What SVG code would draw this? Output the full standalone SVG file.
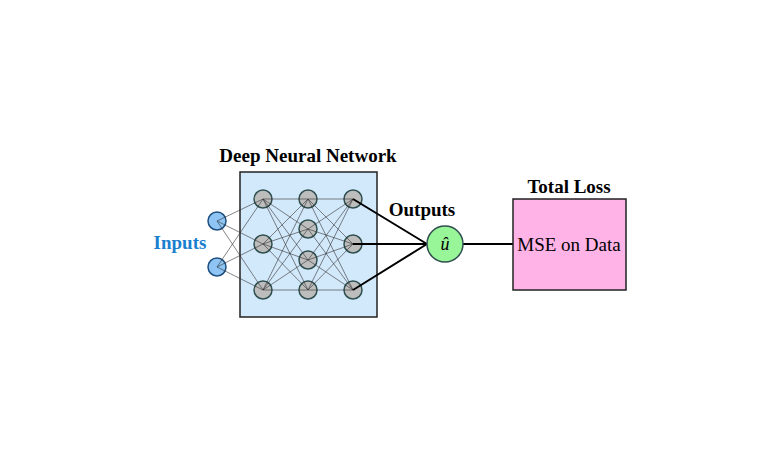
<svg xmlns="http://www.w3.org/2000/svg" width="776" height="459" viewBox="0 0 776 459">
<style>
.n{fill:#bdbdbd;stroke:#2f4f4f;stroke-width:1.5}
.i{fill:#8ec5f5;stroke:#1f4f7f;stroke-width:1.5}
.e{stroke:#333;stroke-width:0.6;fill:none}
.o{stroke:#000;stroke-width:2;fill:none}
.t{font-family:"Liberation Serif",serif;font-weight:bold;font-size:19px;text-anchor:middle}
</style>
<rect width="776" height="459" fill="#fff"/>
<g id="dnn"><rect x="240" y="172" width="137" height="145" fill="#d2e8fb" stroke="#222" stroke-width="1.5"/></g>
<text class="t" x="308" y="162">Deep Neural Network</text>
<text class="t" x="180" y="249" fill="#1a7fcf">Inputs</text>
<text class="t" x="422" y="216">Outputs</text>
<text class="t" x="569" y="193">Total Loss</text>
<g id="inputs"><circle class="i" cx="217" cy="221" r="9"/><circle class="i" cx="217" cy="267" r="9"/></g>
<g id="hidden">
<circle class="n" cx="263" cy="199" r="9"/><circle class="n" cx="263" cy="244" r="9"/><circle class="n" cx="263" cy="290" r="9"/>
<circle class="n" cx="308" cy="199" r="9"/><circle class="n" cx="308" cy="229" r="9"/><circle class="n" cx="308" cy="260" r="9"/><circle class="n" cx="308" cy="290" r="9"/>
<circle class="n" cx="353" cy="199" r="9"/><circle class="n" cx="353" cy="244" r="9"/><circle class="n" cx="353" cy="290" r="9"/>
</g>
<g id="connectors">
<path class="e" d="M217 221L263 199M217 221L263 244M217 221L263 290M217 267L263 199M217 267L263 244M217 267L263 290
M263 199L308 199M263 199L308 229M263 199L308 260M263 199L308 290
M263 244L308 199M263 244L308 229M263 244L308 260M263 244L308 290
M263 290L308 199M263 290L308 229M263 290L308 260M263 290L308 290
M308 199L353 199M308 199L353 244M308 199L353 290
M308 229L353 199M308 229L353 244M308 229L353 290
M308 260L353 199M308 260L353 244M308 260L353 290
M308 290L353 199M308 290L353 244M308 290L353 290"/>
<path class="o" d="M353 199L427 244M353 244L427 244M353 290L427 244M463 244L513 244"/>
</g>
<g id="output"><circle cx="445" cy="244" r="18" fill="#98f598" stroke="#2f4f4f" stroke-width="1.5"/>
<text x="445" y="250" font-family="Liberation Serif,serif" font-style="italic" font-size="18" text-anchor="middle">û</text></g>
<g id="loss"><rect x="513" y="199" width="113" height="91" fill="#ffb3e6" stroke="#222" stroke-width="1.5"/>
<text x="569" y="251" font-family="Liberation Serif,serif" font-size="19" text-anchor="middle">MSE on Data</text></g>
</svg>
